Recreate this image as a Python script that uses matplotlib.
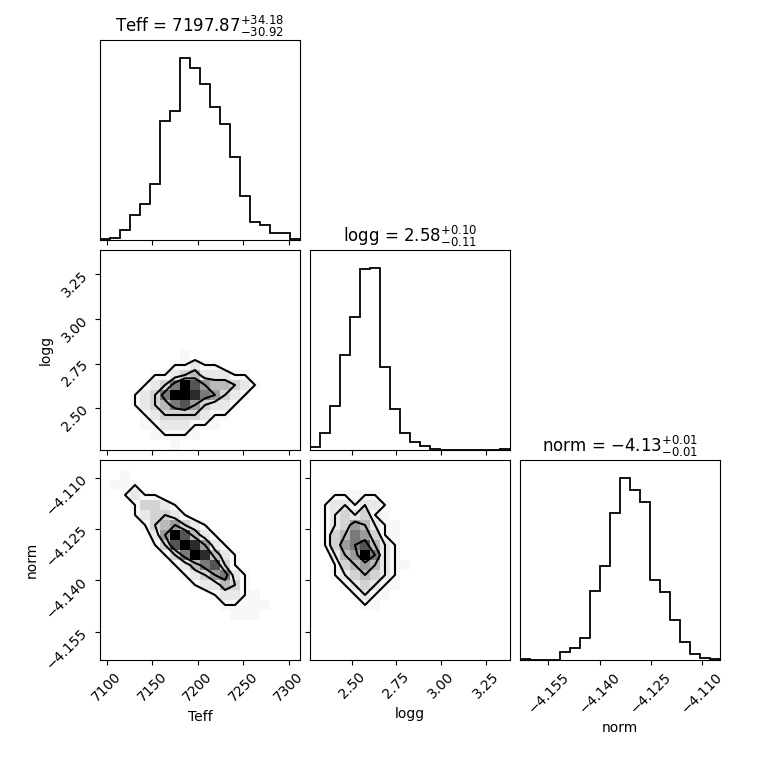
import matplotlib.pyplot as plt
import matplotlib as mpl
import numpy as np

# parameter ranges shown on the axes
ranges = {'Teff': (7092.7, 7312.5), 'logg': (2.268, 3.383), 'norm': (-4.1633, -4.1048)}
names = ['Teff', 'logg', 'norm']
titles = [r'Teff = $7197.87^{+34.18}_{-30.92}$',
          r'logg = $2.58^{+0.10}_{-0.11}$',
          r'norm = $-4.13^{+0.01}_{-0.01}$']
ticks = {'Teff': [7100, 7150, 7200, 7250, 7300],
         'logg': [2.50, 2.75, 3.00, 3.25],
         'norm': [-4.155, -4.140, -4.125, -4.110]}
fmt = {'Teff': '{:.0f}', 'logg': '{:.2f}', 'norm': '{:.3f}'}

# 1D histogram counts (20 bins)
hists = {
    'Teff': [2, 5, 29, 75, 107, 167, 356, 386, 542, 512, 466, 395, 347, 248, 130, 53, 46, 21, 20, 2],
    'logg': [9, 50, 130, 282, 395, 540, 542, 248, 121, 50, 23, 12, 3, 0, 1, 1, 0, 0, 0, 4],
    'norm': [2, 0, 0, 0, 23, 36, 65, 207, 280, 437, 542, 507, 470, 239, 202, 118, 55, 18, 7, 2],
}

# 2D densities, rows top (high y) to bottom, 20x20 cells
grids = {
    ('Teff', 'logg'): """
00000000000000000000
00000000000000000000
00000000000000000000
00000000000000000000
00000000000000000000
00000000000000000000
00000000000000000000
00000000000000000000
00000000000000000000
00000000000000000000
00000000100000000000
00000001121100000000
00000112342221100000
00001236975443210000
00012369986532100000
00012346753221000000
00001233332110000000
00001122211100000000
00000111110000000000
00000001000000000000""",
    ('Teff', 'norm'): """
00000000000000000000
00100000000000000000
01110000000000000000
00121100000000000000
00013321000000000000
00012332100000000000
00001345321000000000
00000259742100000000
00000137985210000000
00000013698421000000
00000001246731000000
00000000123562100000
00000000012243100000
00000000000122110000
00000000000011111000
00000000000001110000
00000000000000000000
00000000000000000000
00000000000000000000
00000000000000000000""",
    ('logg', 'norm'): """
00000000000000000000
00000000000000000000
00000000000000000000
00111110000000000000
01221221000000000000
01232311000000000000
01235421100000000000
01346531100000000000
01356742100000000000
00245962100000000000
00134542110000000000
00123432100000000000
00012321100000000000
00001211000000000000
00000110000000000000
00000000000000000000
00000000000000000000
00000000000000000000
00000000000000000000
00000000000000000000""",
}

fig = plt.figure(figsize=(7.6, 7.6), dpi=100)
W = 200 / 760
G = 210 / 760
axes = {}
for i in range(3):
    for j in range(i + 1):
        ax = fig.add_axes([100 / 760 + j * G, 1 - (40 / 760 + i * G) - W, W, W])
        axes[(i, j)] = ax

def set_ticks(ax, which, name):
    t = ticks[name]
    labels = [fmt[name].format(v).replace('-', '\u2212') for v in t]
    if which == 'x':
        ax.set_xticks(t)
        ax.set_xticklabels(labels, rotation=45)
    else:
        ax.set_yticks(t)
        ax.set_yticklabels(labels, rotation=45)

cl = 1 - np.exp(-0.5 * np.array([0.5, 1.0, 1.5, 2.0]) ** 2)

for i in range(3):
    for j in range(i + 1):
        ax = axes[(i, j)]
        xn = names[j]
        lo, hi = ranges[xn]
        if i == j:
            edges = np.linspace(lo, hi, 21)
            ax.stairs(hists[xn], edges, color='k', linewidth=1.3)
            ax.set_xlim(lo, hi)
            ax.set_ylim(0, max(hists[xn]) * 1.1)
            ax.set_yticks([])
            ax.set_title(titles[i], fontsize=12)
        else:
            yn = names[i]
            ylo, yhi = ranges[yn]
            H = np.array([[int(c) for c in r] for r in grids[(xn, yn)].strip().split('\n')], float)[::-1]
            xe = np.linspace(lo, hi, 21)
            ye = np.linspace(ylo, yhi, 21)
            ax.pcolormesh(xe, ye, H, cmap='gray_r',
                          norm=mpl.colors.PowerNorm(1.6, vmin=0, vmax=9))
            flat = np.sort(H.ravel())[::-1]
            cum = np.cumsum(flat) / flat.sum()
            lv = sorted(set(flat[min(np.searchsorted(cum, c), len(flat) - 1)] for c in cl))
            lv = [v for v in lv if v > 0]
            xc = 0.5 * (xe[1:] + xe[:-1])
            yc = 0.5 * (ye[1:] + ye[:-1])
            ax.contour(xc, yc, H, levels=lv, colors='k', linewidths=1.5)
            ax.set_xlim(lo, hi)
            ax.set_ylim(ylo, yhi)
            if j == 0:
                set_ticks(ax, 'y', yn)
                ax.set_ylabel(yn)
            else:
                ax.set_yticklabels([])
                ax.set_yticks(ticks[yn])
        if i == 2:
            set_ticks(ax, 'x', xn)
            ax.set_xlabel(xn)
        else:
            ax.set_xticks(ticks[xn])
            ax.set_xticklabels([])

plt.savefig('out.png')
